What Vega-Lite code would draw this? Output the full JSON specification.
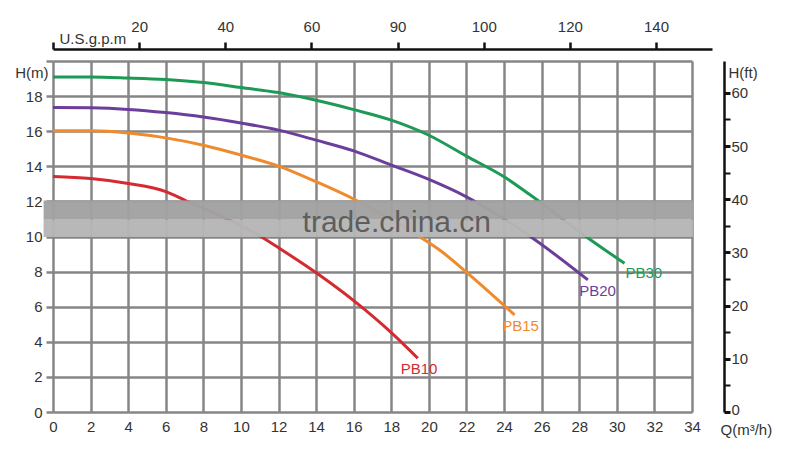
{
  "$schema": "https://vega.github.io/schema/vega-lite/v6.json",
  "width": 639,
  "height": 351,
  "autosize": {"type": "none"},
  "padding": {"left": 53, "top": 61, "right": 108, "bottom": 49},
  "background": "white",
  "config": {"view": {"stroke": null}, "font": "Liberation Sans"},
  "layer": [
    {
      "layer": [
        {
          "data": {"values": [
            {"series": "PB10", "q": 0, "h": 13.42}, {"series": "PB10", "q": 2, "h": 13.3}, {"series": "PB10", "q": 4, "h": 13.02}, {"series": "PB10", "q": 6, "h": 12.56}, {"series": "PB10", "q": 7, "h": 12.08}, {"series": "PB10", "q": 11.08, "h": 9.99}, {"series": "PB10", "q": 12.06, "h": 9.32}, {"series": "PB10", "q": 14.1, "h": 7.86}, {"series": "PB10", "q": 16.05, "h": 6.3}, {"series": "PB10", "q": 18, "h": 4.52}, {"series": "PB10", "q": 19.41, "h": 3.06},
            {"series": "PB15", "q": 0, "h": 16.02}, {"series": "PB15", "q": 2, "h": 16.02}, {"series": "PB15", "q": 4, "h": 15.9}, {"series": "PB15", "q": 6, "h": 15.62}, {"series": "PB15", "q": 8, "h": 15.2}, {"series": "PB15", "q": 10, "h": 14.64}, {"series": "PB15", "q": 12, "h": 14.01}, {"series": "PB15", "q": 14, "h": 13.12}, {"series": "PB15", "q": 16.1, "h": 12.08}, {"series": "PB15", "q": 19.5, "h": 9.99}, {"series": "PB15", "q": 20.57, "h": 9.23}, {"series": "PB15", "q": 22.07, "h": 7.9}, {"series": "PB15", "q": 24.56, "h": 5.53},
            {"series": "PB20", "q": 0, "h": 17.35}, {"series": "PB20", "q": 2, "h": 17.33}, {"series": "PB20", "q": 4, "h": 17.24}, {"series": "PB20", "q": 6, "h": 17.06}, {"series": "PB20", "q": 8, "h": 16.81}, {"series": "PB20", "q": 10, "h": 16.47}, {"series": "PB20", "q": 12, "h": 16.06}, {"series": "PB20", "q": 14, "h": 15.49}, {"series": "PB20", "q": 16, "h": 14.88}, {"series": "PB20", "q": 18, "h": 14.07}, {"series": "PB20", "q": 20, "h": 13.25}, {"series": "PB20", "q": 22, "h": 12.26}, {"series": "PB20", "q": 25.53, "h": 9.9}, {"series": "PB20", "q": 28.46, "h": 7.53},
            {"series": "PB30", "q": 0, "h": 19.09}, {"series": "PB30", "q": 2, "h": 19.09}, {"series": "PB30", "q": 4, "h": 19.03}, {"series": "PB30", "q": 6, "h": 18.94}, {"series": "PB30", "q": 8, "h": 18.77}, {"series": "PB30", "q": 10, "h": 18.49}, {"series": "PB30", "q": 12, "h": 18.2}, {"series": "PB30", "q": 14, "h": 17.76}, {"series": "PB30", "q": 16, "h": 17.23}, {"series": "PB30", "q": 18, "h": 16.63}, {"series": "PB30", "q": 20, "h": 15.77}, {"series": "PB30", "q": 22, "h": 14.58}, {"series": "PB30", "q": 24, "h": 13.4}, {"series": "PB30", "q": 25.4, "h": 12.36}, {"series": "PB30", "q": 28.37, "h": 9.99}, {"series": "PB30", "q": 30.41, "h": 8.47}
          ]},
          "mark": {"type": "line", "interpolate": "monotone", "strokeWidth": 3},
          "encoding": {
            "x": {"field": "q", "type": "quantitative",
              "scale": {"domain": [0, 34], "nice": false, "zero": false},
              "axis": {"orient": "bottom", "values": [0,2,4,6,8,10,12,14,16,18,20,22,24,26,28,30,32,34],
                "grid": true, "gridColor": "#868686", "gridWidth": 2.5, "domain": false, "ticks": false,
                "labelFontSize": 15, "labelColor": "#333333", "labelPadding": 7, "labelFlush": false, "labelOverlap": false, "labelBound": false,
                "title": "Q(m³/h)", "titleFontSize": 15, "titleFontWeight": "normal", "titleColor": "#333333",
                "titleX": 667, "titleY": 17, "titleAlign": "left", "titleBaseline": "middle"}},
            "y": {"field": "h", "type": "quantitative",
              "scale": {"domain": [0, 20], "nice": false},
              "axis": {"orient": "left", "values": [0,2,4,6,8,10,12,14,16,18,20],
                "labelExpr": "datum.value == 20 ? '' : datum.label",
                "grid": true, "gridColor": "#868686", "gridWidth": 2.5, "domain": false,
                "ticks": true, "tickColor": "#868686", "tickWidth": 2.5, "tickSize": 7,
                "labelFontSize": 15, "labelColor": "#333333", "labelPadding": 4, "labelFlush": false, "labelOverlap": false,
                "title": "H(m)", "titleAngle": 0, "titleFontSize": 15, "titleFontWeight": "normal", "titleColor": "#333333",
                "titleX": -5, "titleY": 11, "titleAlign": "right", "titleBaseline": "middle"}},
            "color": {"field": "series", "type": "nominal",
              "scale": {"domain": ["PB10", "PB15", "PB20", "PB30"], "range": ["#d42a30", "#ef8a2d", "#6c3e9c", "#1c9a56"]},
              "legend": null}
          }
        },
        {
          "data": {"values": [{}]},
          "mark": {"type": "rect", "color": "#a2a2a2", "opacity": 0.97},
          "encoding": {
            "x": {"datum": -0.5, "type": "quantitative",
              "axis": {"orient": "bottom", "values": [0,2,4,6,8,10,12,14,16,18,20,22,24,26,28,30,32,34],
                "grid": true, "gridColor": "#868686", "gridWidth": 2.5, "domain": false, "ticks": false,
                "labelFontSize": 15, "labelColor": "#333333", "labelPadding": 7, "labelFlush": false, "labelOverlap": false, "labelBound": false,
                "title": "Q(m³/h)", "titleFontSize": 15, "titleFontWeight": "normal", "titleColor": "#333333",
                "titleX": 667, "titleY": 17, "titleAlign": "left", "titleBaseline": "middle"}},
            "x2": {"datum": 34.05},
            "y": {"datum": 10.95, "type": "quantitative",
              "axis": {"orient": "left", "values": [0,2,4,6,8,10,12,14,16,18,20],
                "labelExpr": "datum.value == 20 ? '' : datum.label",
                "grid": true, "gridColor": "#868686", "gridWidth": 2.5, "domain": false,
                "ticks": true, "tickColor": "#868686", "tickWidth": 2.5, "tickSize": 7,
                "labelFontSize": 15, "labelColor": "#333333", "labelPadding": 4, "labelFlush": false, "labelOverlap": false,
                "title": "H(m)", "titleAngle": 0, "titleFontSize": 15, "titleFontWeight": "normal", "titleColor": "#333333",
                "titleX": -5, "titleY": 11, "titleAlign": "right", "titleBaseline": "middle"}},
            "y2": {"datum": 12.05}
          }
        },
        {
          "data": {"values": [{}]},
          "mark": {"type": "rect", "color": "#b6b6b6", "opacity": 0.97},
          "encoding": {
            "x": {"datum": -0.5, "type": "quantitative",
              "axis": {"orient": "bottom", "values": [0,2,4,6,8,10,12,14,16,18,20,22,24,26,28,30,32,34],
                "grid": true, "gridColor": "#868686", "gridWidth": 2.5, "domain": false, "ticks": false,
                "labelFontSize": 15, "labelColor": "#333333", "labelPadding": 7, "labelFlush": false, "labelOverlap": false, "labelBound": false,
                "title": "Q(m³/h)", "titleFontSize": 15, "titleFontWeight": "normal", "titleColor": "#333333",
                "titleX": 667, "titleY": 17, "titleAlign": "left", "titleBaseline": "middle"}},
            "x2": {"datum": 34.05},
            "y": {"datum": 9.97, "type": "quantitative",
              "axis": {"orient": "left", "values": [0,2,4,6,8,10,12,14,16,18,20],
                "labelExpr": "datum.value == 20 ? '' : datum.label",
                "grid": true, "gridColor": "#868686", "gridWidth": 2.5, "domain": false,
                "ticks": true, "tickColor": "#868686", "tickWidth": 2.5, "tickSize": 7,
                "labelFontSize": 15, "labelColor": "#333333", "labelPadding": 4, "labelFlush": false, "labelOverlap": false,
                "title": "H(m)", "titleAngle": 0, "titleFontSize": 15, "titleFontWeight": "normal", "titleColor": "#333333",
                "titleX": -5, "titleY": 11, "titleAlign": "right", "titleBaseline": "middle"}},
            "y2": {"datum": 10.95}
          }
        },
        {
          "data": {"values": [{}]},
          "mark": {"type": "text", "text": "trade.china.cn", "fontSize": 30, "color": "#5e5e5e", "align": "left", "baseline": "alphabetic", "font": "Liberation Sans"},
          "encoding": {
            "x": {"datum": 13.28, "type": "quantitative",
              "axis": {"orient": "bottom", "values": [0,2,4,6,8,10,12,14,16,18,20,22,24,26,28,30,32,34],
                "grid": true, "gridColor": "#868686", "gridWidth": 2.5, "domain": false, "ticks": false,
                "labelFontSize": 15, "labelColor": "#333333", "labelPadding": 7, "labelFlush": false, "labelOverlap": false, "labelBound": false,
                "title": "Q(m³/h)", "titleFontSize": 15, "titleFontWeight": "normal", "titleColor": "#333333",
                "titleX": 667, "titleY": 17, "titleAlign": "left", "titleBaseline": "middle"}},
            "y": {"datum": 10.27, "type": "quantitative",
              "axis": {"orient": "left", "values": [0,2,4,6,8,10,12,14,16,18,20],
                "labelExpr": "datum.value == 20 ? '' : datum.label",
                "grid": true, "gridColor": "#868686", "gridWidth": 2.5, "domain": false,
                "ticks": true, "tickColor": "#868686", "tickWidth": 2.5, "tickSize": 7,
                "labelFontSize": 15, "labelColor": "#333333", "labelPadding": 4, "labelFlush": false, "labelOverlap": false,
                "title": "H(m)", "titleAngle": 0, "titleFontSize": 15, "titleFontWeight": "normal", "titleColor": "#333333",
                "titleX": -5, "titleY": 11, "titleAlign": "right", "titleBaseline": "middle"}}
          }
        },
        {
          "data": {"values": [
            {"series": "PB10", "q": 18.5, "h": 2.45},
            {"series": "PB15", "q": 23.9, "h": 4.9},
            {"series": "PB20", "q": 28.0, "h": 6.9},
            {"series": "PB30", "q": 30.46, "h": 7.9}
          ]},
          "mark": {"type": "text", "align": "left", "baseline": "middle", "fontSize": 15},
          "encoding": {
            "x": {"field": "q", "type": "quantitative",
              "axis": {"orient": "bottom", "values": [0,2,4,6,8,10,12,14,16,18,20,22,24,26,28,30,32,34],
                "grid": true, "gridColor": "#868686", "gridWidth": 2.5, "domain": false, "ticks": false,
                "labelFontSize": 15, "labelColor": "#333333", "labelPadding": 7, "labelFlush": false, "labelOverlap": false, "labelBound": false,
                "title": "Q(m³/h)", "titleFontSize": 15, "titleFontWeight": "normal", "titleColor": "#333333",
                "titleX": 667, "titleY": 17, "titleAlign": "left", "titleBaseline": "middle"}},
            "y": {"field": "h", "type": "quantitative",
              "axis": {"orient": "left", "values": [0,2,4,6,8,10,12,14,16,18,20],
                "labelExpr": "datum.value == 20 ? '' : datum.label",
                "grid": true, "gridColor": "#868686", "gridWidth": 2.5, "domain": false,
                "ticks": true, "tickColor": "#868686", "tickWidth": 2.5, "tickSize": 7,
                "labelFontSize": 15, "labelColor": "#333333", "labelPadding": 4, "labelFlush": false, "labelOverlap": false,
                "title": "H(m)", "titleAngle": 0, "titleFontSize": 15, "titleFontWeight": "normal", "titleColor": "#333333",
                "titleX": -5, "titleY": 11, "titleAlign": "right", "titleBaseline": "middle"}},
            "text": {"field": "series"},
            "color": {"field": "series", "type": "nominal", "legend": null}
          }
        }
      ]
    },
    {
      "data": {"values": [{"gpm": 0, "ft": 0}, {"gpm": 153, "ft": 66}]},
      "mark": {"type": "point", "opacity": 0},
      "encoding": {
        "x": {"field": "gpm", "type": "quantitative",
          "scale": {"domain": [0, 153], "range": [0, 659], "nice": false},
          "axis": {"orient": "top", "offset": 12, "values": [0,20,40,60,80,100,120,140],
            "labelExpr": "datum.value == 0 ? '' : (datum.value == 80 ? '90' : datum.label)",
            "grid": false, "domainColor": "#111111", "domainWidth": 2.5, "tickColor": "#111111", "tickWidth": 2.5, "tickSize": 7,
            "labelFontSize": 15, "labelColor": "#333333", "labelPadding": 8, "labelFlush": false, "labelOverlap": false,
            "title": "U.S.g.p.m", "titleAngle": 0, "titleFontSize": 15, "titleFontWeight": "normal", "titleColor": "#333333",
            "titleX": 6, "titleY": -11, "titleAlign": "left", "titleBaseline": "middle"}},
        "y": {"field": "ft", "type": "quantitative",
          "scale": {"domain": [0, 66], "nice": false},
          "axis": {"orient": "right", "offset": 32, "values": [0,5,10,15,20,25,30,35,40,45,50,55,60],
            "labelExpr": "datum.value % 10 == 0 ? datum.label : ''",
            "grid": false, "domainColor": "#111111", "domainWidth": 2.5, "tickColor": "#111111",
            "tickWidth": {"condition": {"test": "datum.value % 10 == 0", "value": 3}, "value": 2},
            "tickSize": 6,
            "labelOffset": {"condition": {"test": "datum.value == 0", "value": -3}, "value": 0},
            "labelFontSize": 15, "labelColor": "#333333", "labelPadding": 1, "labelFlush": false, "labelOverlap": false,
            "title": "H(ft)", "titleAngle": 0, "titleFontSize": 15, "titleFontWeight": "normal", "titleColor": "#333333",
            "titleX": 4, "titleY": 11, "titleAlign": "left", "titleBaseline": "middle"}}
      }
    }
  ],
  "resolve": {"scale": {"x": "independent", "y": "independent"}}
}
